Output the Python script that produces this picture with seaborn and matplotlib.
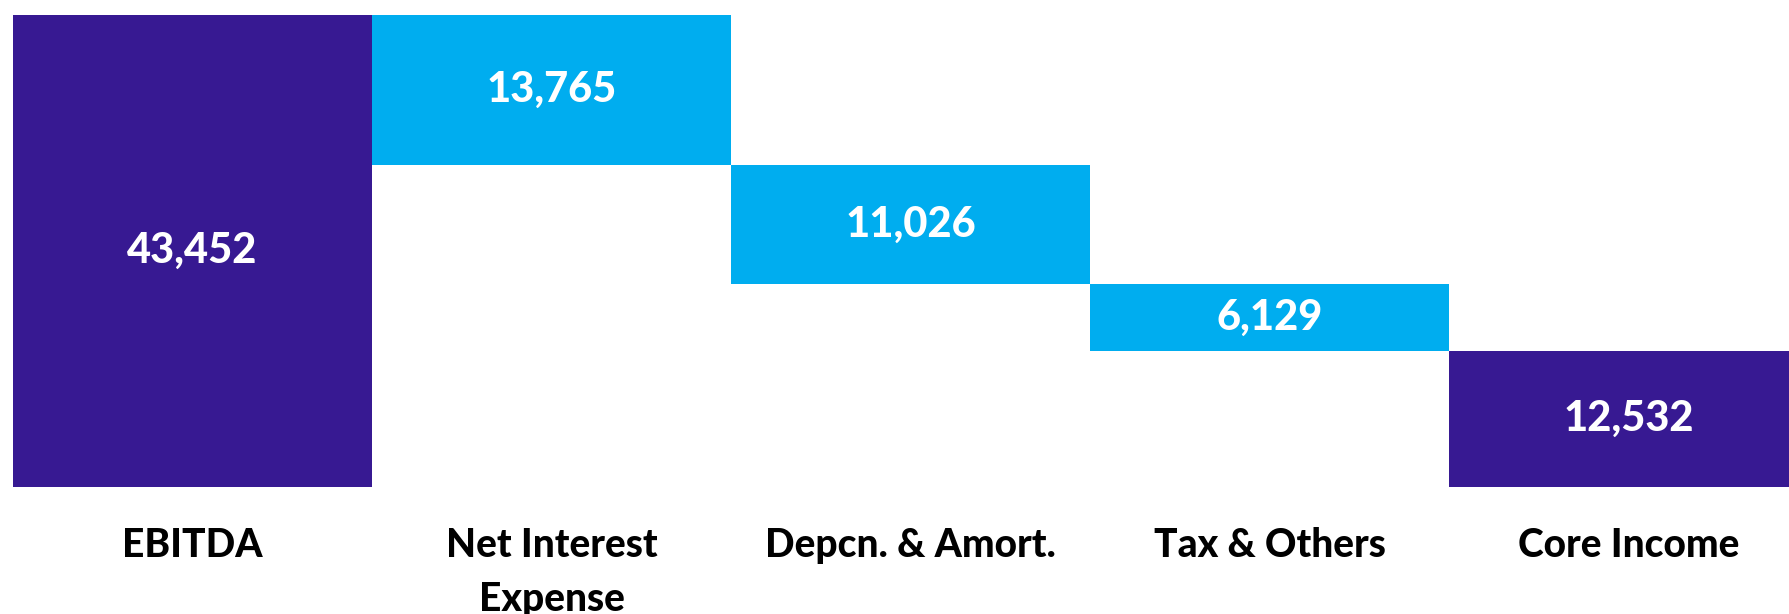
import matplotlib
matplotlib.use("Agg")
import matplotlib.pyplot as plt
import seaborn as sns
import pandas as pd

categories = ["EBITDA", "Net Interest\nExpense", "Depcn. & Amort.", "Tax & Others", "Core Income"]
values = [43452, 13765, 11026, 6129, 12532]
kinds = ["total", "step", "step", "step", "total"]

# Floating bases for the waterfall steps
bases = []
running = 0
for v, k in zip(values, kinds):
    if k == "total":
        bases.append(0)
        running = v
    else:
        running -= v
        bases.append(running)

df = pd.DataFrame({"category": categories, "value": values, "base": bases, "kind": kinds})
df["top"] = df["base"] + df["value"]

sns.set_theme(style="white")
plt.rcParams["font.family"] = ["Lato", "DejaVu Sans"]

fig = plt.figure(figsize=(17.89, 6.14), dpi=100)
ax = fig.add_axes([13 / 1789, 127 / 614, 5 * 359 / 1789, 472 / 614])

kind_colors = {"total": "#371992", "step": "#00adef"}
palette = {c: kind_colors[k] for c, k in zip(categories, kinds)}

# Full-height bars to the top of each step, then white bars mask the base
sns.barplot(data=df, x="category", y="top", hue="category", palette=palette,
            saturation=1, width=1.0, legend=False, linewidth=0, ax=ax)
sns.barplot(data=df, x="category", y="base", color="white", saturation=1,
            width=1.0, linewidth=0, ax=ax)

for i, row in df.iterrows():
    ax.text(i, row["base"] + row["value"] / 2, f"{row['value']:,}",
            ha="center", va="center", color="white", fontsize=30, fontweight="black")

ax.set_xlim(-0.5, 4.5)
ax.set_ylim(0, values[0])
ax.set_xlabel("")
ax.set_ylabel("")
ax.set_yticks([])
ax.tick_params(axis="x", length=0, pad=29)
for lab in ax.get_xticklabels():
    lab.set_fontsize(28)
    lab.set_fontweight("black")
    lab.set_color("black")
    lab.set_linespacing(1.55)
for s in ax.spines.values():
    s.set_visible(False)

fig.savefig("out.png", dpi=100, facecolor="white")
